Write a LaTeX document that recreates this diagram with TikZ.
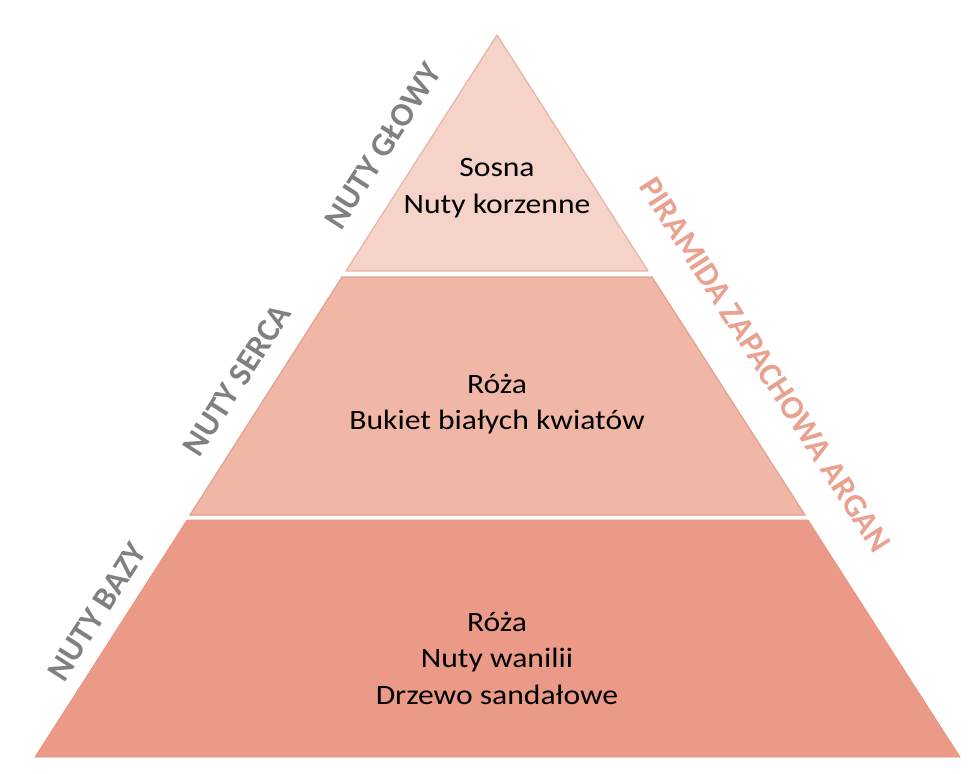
\documentclass[tikz,border=0pt]{standalone}
\usepackage{fontspec}
\usepackage{graphicx}
\setmainfont{Carlito}
\definecolor{tierA}{HTML}{F6D3C9}
\definecolor{tierB}{HTML}{F0B7A7}
\definecolor{tierC}{HTML}{EA9A86}
\definecolor{edgeA}{HTML}{E9B3A4}
\definecolor{edgeB}{HTML}{E2A290}
\definecolor{edgeC}{HTML}{E8957F}
\definecolor{labgray}{HTML}{808080}
\definecolor{labsalmon}{HTML}{E9A190}
\newcommand{\widetxt}[1]{\scalebox{1.13}[1]{#1}}
\tikzset{
  tiertext/.style={align=center, text=black, font=\fontsize{28}{36.5}\selectfont, inner sep=0pt},
  sidelabel/.style={text=labgray, font=\fontsize{33}{36}\selectfont\bfseries, inner sep=0pt, rotate=57.4},
  titlelabel/.style={text=labsalmon, font=\fontsize{33}{36}\selectfont\bfseries, inner sep=0pt, rotate=-57.4},
}
\begin{document}
\begin{tikzpicture}[x=1pt,y=-1pt]
\useasboundingbox (0,0) rectangle (975,774);
\fill[white] (0,0) rectangle (975,774);
% tiers
\filldraw[fill=tierA, draw=edgeA, line width=1.2pt, line join=round] (497,35) -- (648,271) -- (346,271) -- cycle;
\filldraw[fill=tierB, draw=edgeB, line width=1.2pt] (342,277) -- (652,277) -- (805,515) -- (190,515) -- cycle;
\filldraw[fill=tierC, draw=edgeC, line width=0.8pt] (187,520) -- (808,520) -- (960,757) -- (35,757) -- cycle;
% tier texts
\node[tiertext] (top) at (497,188) {\widetxt{Sosna}\\\widetxt{Nuty korzenne}};
\node[tiertext] (mid) at (497,404) {\widetxt{Róża}\\\widetxt{Bukiet białych kwiatów}};
\node[tiertext] (bot) at (497,658) {\widetxt{Róża}\\\widetxt{Nuty wanilii}\\\widetxt{Drzewo sandałowe}};
% side labels
\node[sidelabel] (glowy) at (383,146) {NUTY GŁOWY};
\node[sidelabel] (serca) at (237,380) {NUTY SERCA};
\node[sidelabel] (bazy) at (97,612) {NUTY BAZY};
\node[titlelabel] (title) at (765,365) {PIRAMIDA ZAPACHOWA ARGAN};
\end{tikzpicture}
\end{document}
